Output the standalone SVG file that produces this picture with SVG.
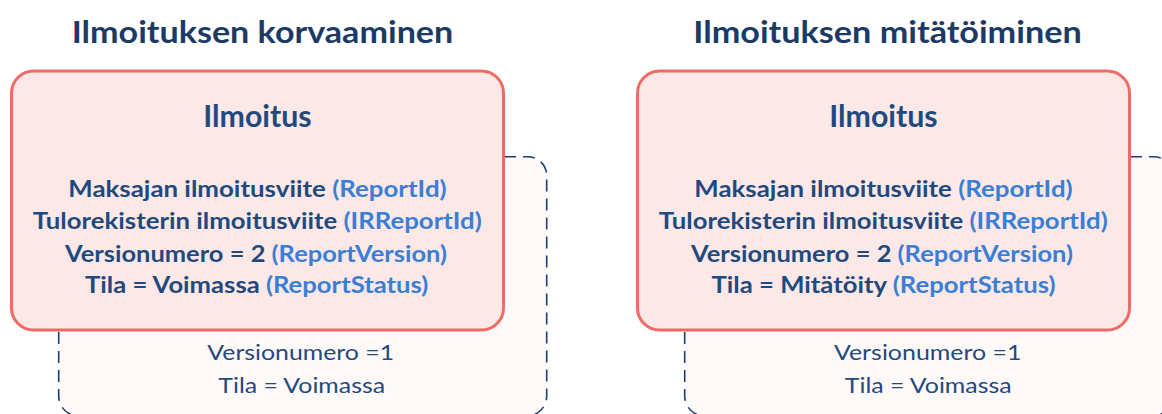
<svg xmlns="http://www.w3.org/2000/svg" width="1162" height="414" viewBox="0 0 1162 414">
  <style>
    .title { font-family: Lato, "Open Sans", sans-serif; font-weight: 700; font-size: 30.7px; fill: #1c3a66; text-anchor: middle; }
    .head { font-family: Lato, "Open Sans", sans-serif; font-weight: 700; font-size: 29.7px; fill: #1f4a80; text-anchor: middle; }
    .body { font-family: Lato, "Open Sans", sans-serif; font-weight: 700; font-size: 23px; fill: #1f4a80; text-anchor: middle; }
    .code { fill: #3a7fd6; }
    .old { font-family: Lato, "Open Sans", sans-serif; font-weight: 400; font-size: 21px; fill: #1f4a80; text-anchor: middle; }
    .current { fill: #fce8e7; stroke: #f06b64; stroke-width: 3; }
    .previous { fill: #fff9f9; stroke: #1f3e6e; stroke-width: 1.6; stroke-dasharray: 12 7; }
  </style>
  <rect width="1162" height="414" fill="#ffffff"/>

  <g id="title-left">
    <text class="title" x="262.5" y="42.7" textLength="381.6" lengthAdjust="spacingAndGlyphs">Ilmoituksen korvaaminen</text>
  </g>
  <g id="title-right">
    <text class="title" x="887.5" y="42.7" textLength="388.4" lengthAdjust="spacingAndGlyphs">Ilmoituksen mitätöiminen</text>
  </g>

  <g id="left-previous-version">
    <path class="previous" d="M58.7 175.7 A19 19 0 0 1 77.7 156.7 H527.7 A19 19 0 0 1 546.7 175.7 V396 A20 20 0 0 1 526.7 416 H78.7 A20 20 0 0 1 58.7 396 Z"/>
    <text class="old" x="300.7" y="360" textLength="186.7" lengthAdjust="spacingAndGlyphs">Versionumero =1</text>
    <text class="old" x="301.7" y="393.3" textLength="166.7" lengthAdjust="spacingAndGlyphs">Tila = Voimassa</text>
  </g>

  <g id="left-current-version">
    <rect class="current" x="11.5" y="71" width="492" height="259" rx="22" ry="22"/>
    <text class="head" x="257.5" y="127.3" textLength="108.4" lengthAdjust="spacingAndGlyphs">Ilmoitus</text>
    <text class="body" x="257.5" y="197" textLength="378.4" lengthAdjust="spacingAndGlyphs">Maksajan ilmoitusviite <tspan class="code">(ReportId)</tspan></text>
    <text class="body" x="257.3" y="228.7" textLength="449" lengthAdjust="spacingAndGlyphs">Tulorekisterin ilmoitusviite <tspan class="code">(IRReportId)</tspan></text>
    <text class="body" x="256" y="261.8" textLength="382" lengthAdjust="spacingAndGlyphs">Versionumero = 2 <tspan class="code">(ReportVersion)</tspan></text>
    <text class="body" x="256.7" y="293.4" textLength="343.3" lengthAdjust="spacingAndGlyphs">Tila = Voimassa <tspan class="code">(ReportStatus)</tspan></text>
  </g>

  <g id="right-previous-version">
    <path class="previous" d="M684.7 175.7 A19 19 0 0 1 703.7 156.7 H1153.7 A19 19 0 0 1 1172.7 175.7 V396 A20 20 0 0 1 1152.7 416 H704.7 A20 20 0 0 1 684.7 396 Z"/>
    <text class="old" x="927.7" y="360" textLength="187.5" lengthAdjust="spacingAndGlyphs">Versionumero =1</text>
    <text class="old" x="928.2" y="393.3" textLength="166.7" lengthAdjust="spacingAndGlyphs">Tila = Voimassa</text>
  </g>

  <g id="right-current-version">
    <rect class="current" x="637.5" y="71" width="492" height="259" rx="22" ry="22"/>
    <text class="head" x="883.5" y="127.3" textLength="108.4" lengthAdjust="spacingAndGlyphs">Ilmoitus</text>
    <text class="body" x="883.5" y="197" textLength="378.4" lengthAdjust="spacingAndGlyphs">Maksajan ilmoitusviite <tspan class="code">(ReportId)</tspan></text>
    <text class="body" x="883.3" y="228.7" textLength="449" lengthAdjust="spacingAndGlyphs">Tulorekisterin ilmoitusviite <tspan class="code">(IRReportId)</tspan></text>
    <text class="body" x="882" y="261.8" textLength="382" lengthAdjust="spacingAndGlyphs">Versionumero = 2 <tspan class="code">(ReportVersion)</tspan></text>
    <text class="body" x="883.5" y="293.4" textLength="344" lengthAdjust="spacingAndGlyphs">Tila = Mitätöity <tspan class="code">(ReportStatus)</tspan></text>
  </g>
</svg>
